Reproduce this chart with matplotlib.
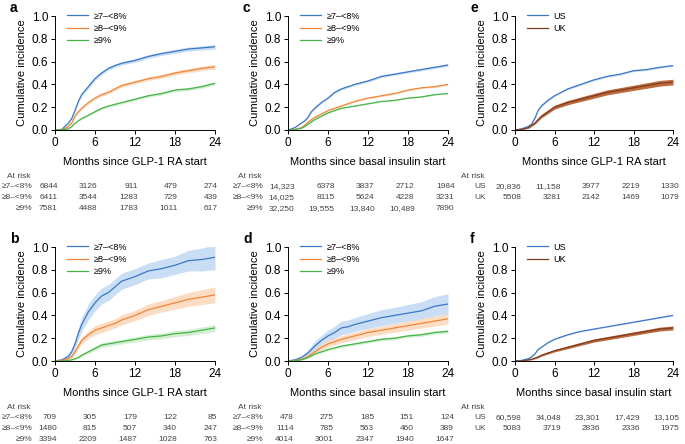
import matplotlib
matplotlib.use("Agg")
from matplotlib import pyplot as plt
from matplotlib.transforms import blended_transform_factory
import numpy as np

plt.rcParams["font.family"] = ["Liberation Sans", "DejaVu Sans"]

months = [0, 1, 2, 2.5, 3, 3.5, 4, 5, 6, 7, 8, 9, 10, 12, 14, 16, 18, 20, 22, 24]

# panel a: GLP-1 RA, US, by HbA1c
a_lo = [0, 0.005, 0.06, 0.10, 0.17, 0.25, 0.31, 0.38, 0.45, 0.50, 0.54, 0.565, 0.585, 0.61, 0.645, 0.67, 0.69, 0.71, 0.72, 0.73]
a_mid = [0, 0, 0.03, 0.06, 0.12, 0.16, 0.19, 0.24, 0.28, 0.31, 0.33, 0.36, 0.39, 0.42, 0.45, 0.47, 0.50, 0.52, 0.54, 0.555]
a_hi = [0, 0, 0.01, 0.03, 0.06, 0.08, 0.10, 0.13, 0.16, 0.19, 0.21, 0.225, 0.24, 0.27, 0.30, 0.32, 0.35, 0.36, 0.38, 0.41]
a_lo_ci = [0, 0.002, 0.006, 0.008, 0.01, 0.012, 0.013, 0.014, 0.015, 0.015, 0.015, 0.015, 0.015, 0.016, 0.016, 0.017, 0.018, 0.018, 0.019, 0.02]
a_mid_ci = [0, 0, 0.004, 0.006, 0.008, 0.01, 0.011, 0.012, 0.013, 0.013, 0.014, 0.014, 0.015, 0.015, 0.016, 0.017, 0.018, 0.019, 0.02, 0.02]
a_hi_ci = [0, 0, 0.003, 0.004, 0.005, 0.006, 0.007, 0.008, 0.009, 0.01, 0.01, 0.011, 0.011, 0.012, 0.012, 0.013, 0.013, 0.014, 0.014, 0.015]

# panel b: GLP-1 RA, UK, by HbA1c
b_lo = [0, 0.01, 0.04, 0.08, 0.15, 0.24, 0.32, 0.43, 0.51, 0.57, 0.60, 0.65, 0.70, 0.74, 0.79, 0.81, 0.84, 0.88, 0.89, 0.91]
b_mid = [0, 0.005, 0.02, 0.04, 0.08, 0.13, 0.18, 0.23, 0.27, 0.29, 0.31, 0.33, 0.36, 0.40, 0.45, 0.48, 0.51, 0.54, 0.56, 0.58]
b_hi = [0, 0, 0.005, 0.01, 0.02, 0.03, 0.05, 0.08, 0.11, 0.14, 0.15, 0.16, 0.17, 0.19, 0.21, 0.22, 0.24, 0.25, 0.27, 0.29]
b_lo_ci = [0, 0.005, 0.02, 0.03, 0.04, 0.05, 0.06, 0.07, 0.07, 0.07, 0.07, 0.07, 0.07, 0.07, 0.07, 0.08, 0.08, 0.09, 0.10, 0.11]
b_mid_ci = [0, 0.003, 0.01, 0.015, 0.02, 0.025, 0.03, 0.035, 0.04, 0.04, 0.04, 0.04, 0.045, 0.045, 0.05, 0.05, 0.055, 0.06, 0.065, 0.07]
b_hi_ci = [0, 0, 0.003, 0.005, 0.008, 0.01, 0.012, 0.015, 0.018, 0.02, 0.02, 0.02, 0.02, 0.022, 0.024, 0.025, 0.026, 0.027, 0.028, 0.03]

# panel c: basal insulin, US, by HbA1c
c_lo = [0, 0.02, 0.06, 0.08, 0.11, 0.16, 0.19, 0.24, 0.28, 0.33, 0.36, 0.38, 0.40, 0.43, 0.47, 0.49, 0.51, 0.53, 0.55, 0.57]
c_mid = [0, 0.005, 0.02, 0.04, 0.07, 0.09, 0.11, 0.14, 0.17, 0.19, 0.21, 0.23, 0.25, 0.28, 0.30, 0.32, 0.35, 0.37, 0.38, 0.40]
c_hi = [0, 0.003, 0.015, 0.03, 0.05, 0.07, 0.09, 0.12, 0.15, 0.17, 0.19, 0.20, 0.21, 0.23, 0.25, 0.26, 0.28, 0.29, 0.31, 0.32]
c_lo_ci = [0, 0.002, 0.004, 0.005, 0.006, 0.007, 0.007, 0.008, 0.008, 0.008, 0.009, 0.009, 0.009, 0.009, 0.01, 0.01, 0.01, 0.011, 0.011, 0.012]
c_mid_ci = [0, 0.001, 0.003, 0.003, 0.004, 0.004, 0.005, 0.005, 0.005, 0.006, 0.006, 0.006, 0.006, 0.006, 0.007, 0.007, 0.007, 0.007, 0.008, 0.008]
c_hi_ci = [0, 0.001, 0.002, 0.002, 0.003, 0.003, 0.003, 0.003, 0.004, 0.004, 0.004, 0.004, 0.004, 0.004, 0.004, 0.005, 0.005, 0.005, 0.005, 0.005]

# panel d: basal insulin, UK, by HbA1c
d_lo = [0, 0.01, 0.03, 0.05, 0.07, 0.10, 0.13, 0.18, 0.22, 0.25, 0.29, 0.30, 0.32, 0.35, 0.38, 0.40, 0.42, 0.44, 0.48, 0.50]
d_mid = [0, 0.003, 0.015, 0.025, 0.04, 0.06, 0.08, 0.12, 0.15, 0.17, 0.19, 0.205, 0.22, 0.25, 0.27, 0.29, 0.31, 0.33, 0.35, 0.37]
d_hi = [0, 0.002, 0.01, 0.02, 0.03, 0.045, 0.06, 0.08, 0.10, 0.115, 0.13, 0.14, 0.15, 0.17, 0.19, 0.20, 0.22, 0.23, 0.25, 0.26]
d_lo_ci = [0, 0.005, 0.015, 0.02, 0.03, 0.035, 0.04, 0.045, 0.05, 0.055, 0.06, 0.06, 0.06, 0.065, 0.07, 0.07, 0.075, 0.08, 0.085, 0.09]
d_mid_ci = [0, 0.002, 0.008, 0.01, 0.015, 0.018, 0.02, 0.025, 0.028, 0.03, 0.03, 0.032, 0.033, 0.035, 0.036, 0.038, 0.04, 0.042, 0.044, 0.045]
d_hi_ci = [0, 0.001, 0.003, 0.004, 0.005, 0.006, 0.007, 0.008, 0.009, 0.01, 0.01, 0.011, 0.011, 0.012, 0.012, 0.013, 0.013, 0.014, 0.014, 0.015]

# panel e: GLP-1 RA, US vs UK
e_us = [0, 0.01, 0.03, 0.05, 0.10, 0.17, 0.21, 0.26, 0.30, 0.33, 0.36, 0.38, 0.40, 0.44, 0.47, 0.49, 0.52, 0.53, 0.55, 0.565]
e_uk = [0, 0.005, 0.02, 0.04, 0.06, 0.09, 0.12, 0.16, 0.20, 0.22, 0.24, 0.255, 0.27, 0.30, 0.33, 0.35, 0.37, 0.39, 0.41, 0.42]
e_us_ci = [0, 0.002, 0.004, 0.005, 0.006, 0.006, 0.007, 0.007, 0.007, 0.007, 0.008, 0.008, 0.008, 0.008, 0.008, 0.008, 0.008, 0.008, 0.008, 0.008]
e_uk_ci = [0, 0.002, 0.006, 0.008, 0.01, 0.012, 0.014, 0.016, 0.017, 0.018, 0.019, 0.019, 0.02, 0.021, 0.022, 0.022, 0.023, 0.024, 0.025, 0.025]

# panel f: basal insulin, US vs UK
f_us = [0, 0.005, 0.02, 0.035, 0.06, 0.10, 0.12, 0.16, 0.19, 0.21, 0.23, 0.245, 0.26, 0.28, 0.30, 0.32, 0.34, 0.36, 0.38, 0.40]
f_uk = [0, 0, 0.01, 0.015, 0.025, 0.035, 0.05, 0.07, 0.09, 0.105, 0.12, 0.135, 0.15, 0.18, 0.20, 0.22, 0.24, 0.26, 0.28, 0.29]
f_us_ci = [0, 0.001, 0.002, 0.002, 0.003, 0.003, 0.003, 0.003, 0.004, 0.004, 0.004, 0.004, 0.004, 0.004, 0.004, 0.004, 0.004, 0.004, 0.004, 0.004]
f_uk_ci = [0, 0, 0.004, 0.005, 0.006, 0.007, 0.008, 0.009, 0.01, 0.011, 0.012, 0.012, 0.013, 0.014, 0.015, 0.015, 0.016, 0.016, 0.017, 0.018]

hba1c_labels = ["≥7–<8%", "≥8–<9%", "≥9%"]
country_labels = ["US", "UK"]

a_risk = [[6844, 3126, 911, 479, 274], [6411, 3544, 1283, 729, 439], [7581, 4488, 1783, 1011, 617]]
b_risk = [[709, 305, 179, 122, 85], [1480, 815, 507, 340, 247], [3394, 2209, 1487, 1028, 763]]
c_risk = [[14323, 6378, 3837, 2712, 1984], [14025, 8115, 5624, 4228, 3231], [32250, 19555, 13840, 10489, 7890]]
d_risk = [[478, 275, 185, 151, 124], [1114, 785, 563, 460, 389], [4014, 3001, 2347, 1940, 1647]]
e_risk = [[20836, 11158, 3977, 2219, 1330], [5508, 3281, 2142, 1469, 1079]]
f_risk = [[60598, 34048, 23301, 17429, 13105], [5083, 3719, 2836, 2336, 1975]]

risk_months = [0, 6, 12, 18, 24]

BLUE, BLUE_BAND = "#3b78c4", "#c9def5"
ORANGE, ORANGE_BAND = "#f0863a", "#fcdcc3"
GREEN, GREEN_BAND = "#46b446", "#d2efd2"
BROWN, BROWN_BAND = "#7a3d24", "#c06a3c"

W, H = 685, 444
RISK_FS = 6


def fmt(n):
    return f"{n:,}" if n >= 10000 else str(n)


def panel(fig, left, top, right, bottom, letter, xlabel, series, labels, risk, lab_x, num_off):
    ax = fig.add_axes([left / W, 1 - bottom / H, (right - left) / W, (bottom - top) / H])
    t = np.array(months)
    for y, ci, col, band, lab in series:
        y = np.array(y)
        ci = np.array(ci)
        ax.fill_between(t, y - ci, y + ci, color=band, lw=0)
        ax.plot(t, y, color=col, lw=0.9, label=lab)
    ax.set_xlim(0, 24)
    ax.set_ylim(0, 1.0)
    ax.set_xticks([0, 6, 12, 18, 24])
    ax.set_yticks([0, 0.2, 0.4, 0.6, 0.8, 1.0])
    ax.set_yticklabels(["0.0", "0.2", "0.4", "0.6", "0.8", "1.0"])
    ax.tick_params(labelsize=8.5, length=3, width=0.7, pad=2)
    for s in ["top", "right"]:
        ax.spines[s].set_visible(False)
    for s in ["left", "bottom"]:
        ax.spines[s].set_linewidth(0.7)
    ax.set_ylabel("Cumulative incidence", fontsize=8, labelpad=3)
    ax.set_xlabel(xlabel, fontsize=8, labelpad=6)
    ax.legend(loc="upper left", bbox_to_anchor=(0.05, 1.07), frameon=False, fontsize=6.5,
              handlelength=2.4, handletextpad=0.6, labelspacing=0.35, borderaxespad=0)
    fig.text((left - 45) / W, 1 - (top - 8) / H, letter, fontsize=10, fontweight="bold",
             va="center", ha="left")

    tr = blended_transform_factory(ax.transData, fig.transFigure)
    y0 = bottom + 46
    ax.text(lab_x - 0.3, 1 - y0 / H, "At risk", transform=tr, fontsize=RISK_FS,
            ha="right", va="center", color="#444444")
    for i, row in enumerate(risk):
        yy = 1 - (y0 + 10.8 * (i + 1)) / H
        ax.text(lab_x, yy, labels[i], transform=tr, fontsize=RISK_FS, ha="right", va="center",
                color="#444444")
        for m, n in zip(risk_months, row):
            ax.text(m + num_off, yy, fmt(n), transform=tr, fontsize=RISK_FS, ha="right",
                    va="center", color="#444444")
    return ax


def main():
    fig = plt.figure(figsize=(W / 100, H / 100), dpi=100)

    glp = "Months since GLP-1 RA start"
    bas = "Months since basal insulin start"

    panel(fig, 55, 16, 215, 130, "a", glp,
          [(a_lo, a_lo_ci, BLUE, BLUE_BAND, hba1c_labels[0]),
           (a_mid, a_mid_ci, ORANGE, ORANGE_BAND, hba1c_labels[1]),
           (a_hi, a_hi_ci, GREEN, GREEN_BAND, hba1c_labels[2])],
          hba1c_labels, a_risk, -3.4, 0.4)
    panel(fig, 55, 247, 215, 361, "b", glp,
          [(b_lo, b_lo_ci, BLUE, BLUE_BAND, hba1c_labels[0]),
           (b_mid, b_mid_ci, ORANGE, ORANGE_BAND, hba1c_labels[1]),
           (b_hi, b_hi_ci, GREEN, GREEN_BAND, hba1c_labels[2])],
          hba1c_labels, b_risk, -3.4, 0.3)
    panel(fig, 288, 16, 448, 130, "c", bas,
          [(c_lo, c_lo_ci, BLUE, BLUE_BAND, hba1c_labels[0]),
           (c_mid, c_mid_ci, ORANGE, ORANGE_BAND, hba1c_labels[1]),
           (c_hi, c_hi_ci, GREEN, GREEN_BAND, hba1c_labels[2])],
          hba1c_labels, c_risk, -3.7, 1.0)
    panel(fig, 288, 247, 448, 361, "d", bas,
          [(d_lo, d_lo_ci, BLUE, BLUE_BAND, hba1c_labels[0]),
           (d_mid, d_mid_ci, ORANGE, ORANGE_BAND, hba1c_labels[1]),
           (d_hi, d_hi_ci, GREEN, GREEN_BAND, hba1c_labels[2])],
          hba1c_labels, d_risk, -3.7, 0.9)
    panel(fig, 515, 16, 673, 130, "e", glp,
          [(e_us, e_us_ci, BLUE, BLUE_BAND, country_labels[0]),
           (e_uk, e_uk_ci, BROWN, BROWN_BAND, country_labels[1])],
          country_labels, e_risk, -4.4, 1.0)
    panel(fig, 515, 247, 673, 361, "f", bas,
          [(f_us, f_us_ci, BLUE, BLUE_BAND, country_labels[0]),
           (f_uk, f_uk_ci, BROWN, BROWN_BAND, country_labels[1])],
          country_labels, f_risk, -4.4, 1.0)

    fig.savefig("out.png", dpi=100)


if __name__ == "__main__":
    main()
